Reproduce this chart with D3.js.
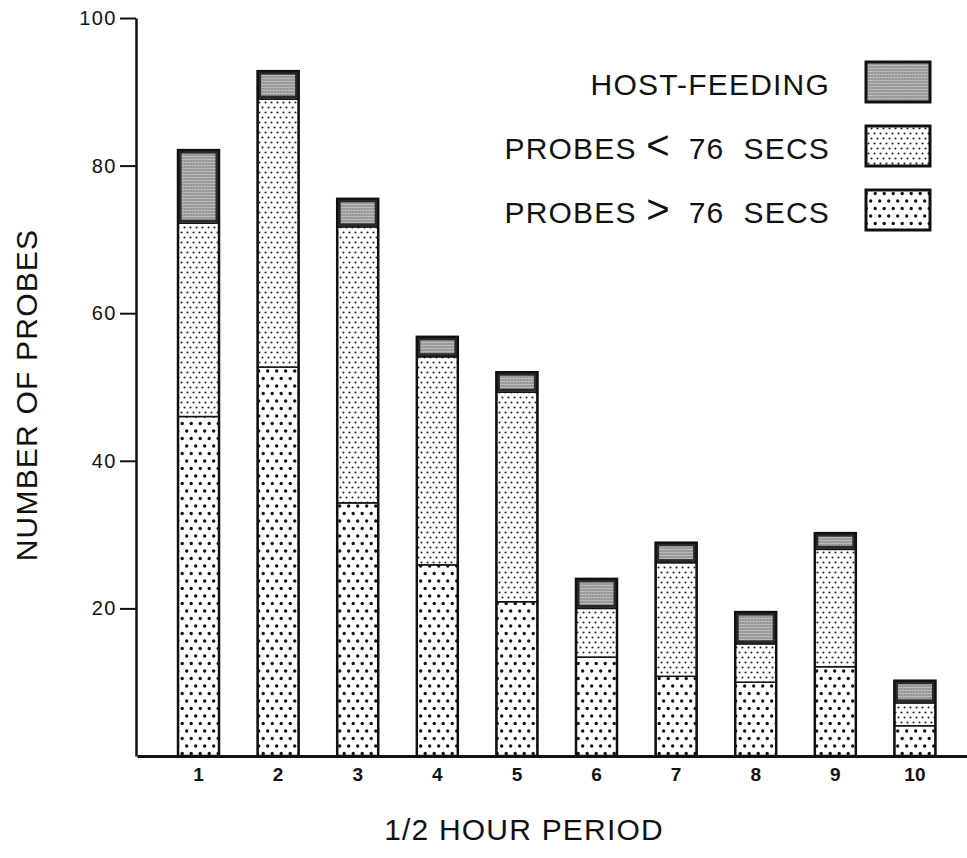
<!DOCTYPE html>
<html>
<head>
<meta charset="utf-8">
<style>
  body { margin: 0; background: #fff; }
  svg text { font-family: "Liberation Sans", Arial, sans-serif; fill: #111; }
  .legend text, .title { font-size: 30px; letter-spacing: 1.2px; white-space: pre; }
  .legend .sym { font-size: 40px; letter-spacing: 0; }
  .y-axis text { font-size: 20px; letter-spacing: 1.5px; }
  .x-axis text { font-size: 19px; font-weight: bold; }
</style>
<script src="https://d3js.org/d3.v7.min.js"></script>
</head>
<body>
<svg width="967" height="858"></svg>
<script>
// data
var periods = ["1", "2", "3", "4", "5", "6", "7", "8", "9", "10"];
var longProbes  = [46.0, 52.7, 34.3, 25.9, 20.9, 13.4, 10.8, 10.0, 12.1, 4.1];  // probes > 76 secs
var shortProbes = [26.2, 36.3, 37.4, 28.2, 28.4, 6.6, 15.4, 5.2, 15.9, 3.1];   // probes < 76 secs
var hostFeeding = [9.9, 3.8, 3.8, 2.7, 2.7, 4.0, 2.7, 4.3, 2.2, 3.0];
var yTicks = [20, 40, 60, 80, 100];
var seriesKeys = ["long", "short", "host"];
var legendLabels = ["HOST-FEEDING", "PROBES <  76  SECS", "PROBES >  76  SECS"];
var legendKeys = ["host", "short", "long"];

var svg = d3.select("svg");

var x = d3.scaleBand()
    .domain(periods)
    .range([137, 967])
    .paddingInner(0.485)
    .paddingOuter(0.456)
    .align(0.565);

var y = d3.scaleLinear()
    .domain([0, 100])
    .range([756, 18]);

// fill patterns
var defs = svg.append("defs");

var pHost = defs.append("pattern").attr("id", "pat-host")
    .attr("patternUnits", "userSpaceOnUse").attr("width", 3).attr("height", 3);
pHost.append("rect").attr("width", 3).attr("height", 3).attr("fill", "#969696");
pHost.append("line").attr("x1", 0).attr("x2", 3).attr("y1", 0.5).attr("y2", 0.5)
    .attr("stroke", "#c0c0c0").attr("stroke-width", 1);
pHost.append("line").attr("x1", 0.5).attr("x2", 0.5).attr("y1", 0).attr("y2", 3)
    .attr("stroke", "#aaaaaa").attr("stroke-width", 0.8);

var pShort = defs.append("pattern").attr("id", "pat-short")
    .attr("patternUnits", "userSpaceOnUse").attr("width", 6).attr("height", 10);
pShort.append("rect").attr("width", 6).attr("height", 10).attr("fill", "#fff");
pShort.append("circle").attr("cx", 1.5).attr("cy", 2.5).attr("r", 1.05).attr("fill", "#222");
pShort.append("circle").attr("cx", 4.5).attr("cy", 7.5).attr("r", 1.05).attr("fill", "#222");

var pLong = defs.append("pattern").attr("id", "pat-long")
    .attr("patternUnits", "userSpaceOnUse").attr("width", 9).attr("height", 15);
pLong.append("rect").attr("width", 9).attr("height", 15).attr("fill", "#fff");
pLong.append("circle").attr("cx", 2.2).attr("cy", 3.5).attr("r", 1.7).attr("fill", "#111");
pLong.append("circle").attr("cx", 6.7).attr("cy", 11).attr("r", 1.7).attr("fill", "#111");

var fills = { host: "url(#pat-host)", short: "url(#pat-short)", long: "url(#pat-long)" };

// table for the stack
var rows = periods.map(function(p, i) {
    return { period: p, long: longProbes[i], short: shortProbes[i], host: hostFeeding[i] };
});
var stacked = d3.stack().keys(seriesKeys)(rows);

// bar segments
var layer = svg.selectAll(".layer")
    .data(stacked)
    .enter().append("g")
    .attr("class", "layer");

layer.selectAll("rect")
    .data(function(d) { return d.map(function(s) { s.key = d.key; return s; }); })
    .enter().append("rect")
    .attr("x", function(d) { return x(d.data.period); })
    .attr("y", function(d) { return y(d[1]); })
    .attr("width", x.bandwidth())
    .attr("height", function(d) { return y(d[0]) - y(d[1]); })
    .attr("fill", function(d) { return fills[d.key]; })
    .attr("stroke", "#111")
    .attr("stroke-width", 1.5);

// heavy inner frame on the host-feeding boxes
svg.append("g").selectAll("rect")
    .data(stacked[2])
    .enter().append("rect")
    .attr("x", function(d) { return x(d.data.period) + 2; })
    .attr("y", function(d) { return y(d[1]) + 2; })
    .attr("width", x.bandwidth() - 4)
    .attr("height", function(d) { return Math.max(0, y(d[0]) - y(d[1]) - 4); })
    .attr("fill", "none")
    .attr("stroke", "#2a2a2a")
    .attr("stroke-width", 3);

// bar outlines
svg.append("g").selectAll("rect")
    .data(stacked[2])
    .enter().append("rect")
    .attr("x", function(d) { return x(d.data.period); })
    .attr("y", function(d) { return y(d[1]); })
    .attr("width", x.bandwidth())
    .attr("height", function(d) { return y(0) - y(d[1]); })
    .attr("fill", "none")
    .attr("stroke", "#111")
    .attr("stroke-width", 2.5);

// axes
var yAxis = svg.append("g")
    .attr("class", "y-axis")
    .attr("transform", "translate(136,0)")
    .call(d3.axisLeft(y).tickValues(yTicks).tickSize(16).tickSizeOuter(0).tickPadding(3));
yAxis.select(".domain").attr("stroke", "#111").attr("stroke-width", 2.5);
yAxis.selectAll(".tick line").attr("stroke", "#111").attr("stroke-width", 2);
yAxis.selectAll("text").attr("fill", "#111");

var xAxis = svg.append("g")
    .attr("class", "x-axis")
    .attr("transform", "translate(0,756)")
    .call(d3.axisBottom(x).tickSize(0).tickSizeOuter(0).tickPadding(12));
xAxis.select(".domain").attr("stroke", "#111").attr("stroke-width", 3);
xAxis.selectAll("text").attr("fill", "#111");

// titles
svg.append("text")
    .attr("class", "title")
    .attr("text-anchor", "middle")
    .attr("transform", "translate(37,395) rotate(-90)")
    .text("NUMBER OF PROBES");

svg.append("text")
    .attr("class", "title")
    .attr("text-anchor", "middle")
    .attr("x", 524)
    .attr("y", 840)
    .text("1/2 HOUR PERIOD");

// legend
var legend = svg.append("g").attr("class", "legend");
var entry = legend.selectAll("g")
    .data(legendKeys)
    .enter().append("g")
    .attr("transform", function(d, i) { return "translate(0," + (62 + i * 64) + ")"; });

entry.append("text")
    .attr("x", 830)
    .attr("y", 33)
    .attr("text-anchor", "end")
    .each(function(d, i) {
        var t = d3.select(this);
        legendLabels[i].split(/([<>])/).forEach(function(part) {
            if (!part) return;
            t.append("tspan")
                .attr("class", part === "<" || part === ">" ? "sym" : null)
                .text(part);
        });
    });

entry.append("rect")
    .attr("x", 866)
    .attr("y", 0)
    .attr("width", 64)
    .attr("height", 40)
    .attr("fill", function(d) { return fills[d]; })
    .attr("stroke", "#111")
    .attr("stroke-width", 3);
</script>
</body>
</html>
